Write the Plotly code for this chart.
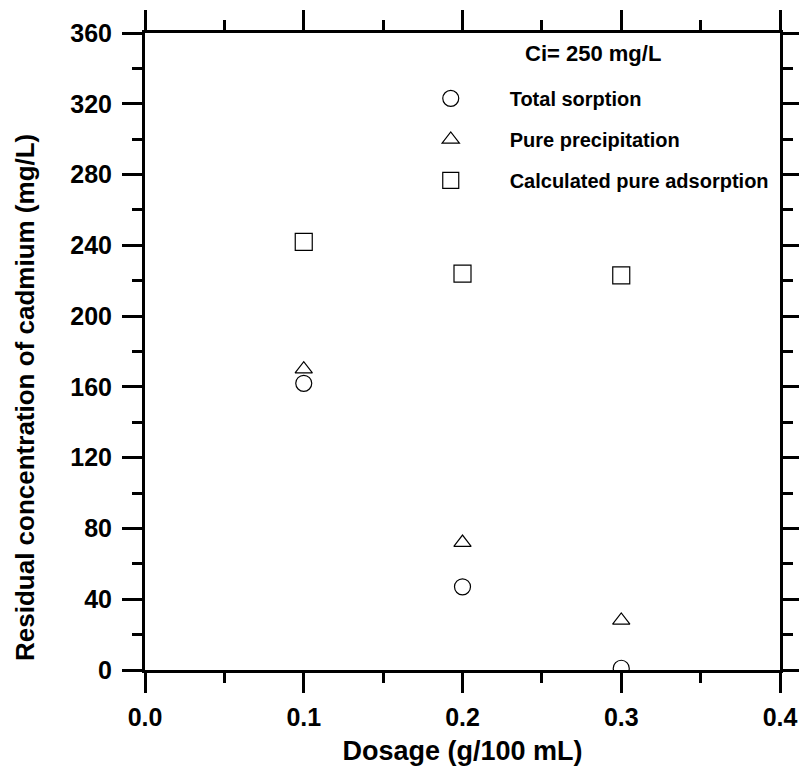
import plotly.graph_objects as go

dosage = [0.1, 0.2, 0.3]
total_sorption = [162, 47, 1]
pure_precipitation = [170, 72, 28]
pure_adsorption = [242, 224, 223]

series_names = ["Total sorption", "Pure precipitation", "Calculated pure adsorption"]
x_ticks = [0.0, 0.1, 0.2, 0.3, 0.4]
x_tick_labels = ["0.0", "0.1", "0.2", "0.3", "0.4"]
y_ticks = [0, 40, 80, 120, 160, 200, 240, 280, 320, 360]

FONT = "Liberation Sans, Arial, sans-serif"
pad = "\u00a0" * 7

fig = go.Figure()
for name, ys, sym, sz in [
    (series_names[0], total_sorption, "circle-open", 16),
    (series_names[1], pure_precipitation, "triangle-up-open", 15),
    (series_names[2], pure_adsorption, "square-open", 17),
]:
    fig.add_trace(go.Scatter(
        x=dosage, y=ys, mode="markers", name=pad + name,
        legendgroup=name,
        marker=dict(symbol=sym, size=sz, color="black", line=dict(width=1.2, color="black")),
    ))

axis_common = dict(
    showline=True, linecolor="black", linewidth=3, mirror="allticks",
    ticks="outside", ticklen=20, tickwidth=3, tickcolor="black",
    showgrid=False, zeroline=False, automargin=False,
    tickfont=dict(family=FONT, size=25, color="black", weight="bold"),
)

fig.update_xaxes(
    **axis_common, range=[0, 0.4], tickvals=x_ticks, ticktext=x_tick_labels,
    ticklabelstandoff=3,
    minor=dict(ticks="outside", ticklen=10, tickwidth=3, tickcolor="black", dtick=0.05, showgrid=False),
    title=dict(text="<b>Dosage (g/100 mL)</b>", font=dict(family=FONT, size=27, color="black"), standoff=12),
)
fig.update_yaxes(
    **axis_common, range=[0, 360], tickvals=y_ticks, ticklabelstandoff=5,
    minor=dict(ticks="outside", ticklen=10, tickwidth=3, tickcolor="black", dtick=20, showgrid=False),
)

# y-axis title (placed lower than centre, as in the reference)
fig.add_annotation(
    text="<b>Residual concentration of cadmium (mg/L)</b>", textangle=-90,
    xref="paper", yref="paper", x=-120 / 635, y=(670 - 398) / 637,
    xanchor="center", yanchor="middle", showarrow=False,
    font=dict(family=FONT, size=26, color="black"),
)

fig.add_annotation(
    text="<b>Ci= 250 mg/L</b>", xref="paper", yref="paper", x=0.705, y=0.968,
    xanchor="center", yanchor="middle", showarrow=False,
    font=dict(family=FONT, size=22, color="black"),
)

fig.update_layout(
    width=799, height=767,
    margin=dict(l=145, r=19, t=33, b=97),
    paper_bgcolor="white", plot_bgcolor="white",
    showlegend=True,
    legend=dict(
        x=0.45, y=0.928, xanchor="left", yanchor="top",
        bgcolor="rgba(0,0,0,0)", tracegroupgap=12,
        font=dict(family=FONT, size=20, color="black", weight="bold"),
        itemsizing="trace",
    ),
)

fig.write_html("out.html")
